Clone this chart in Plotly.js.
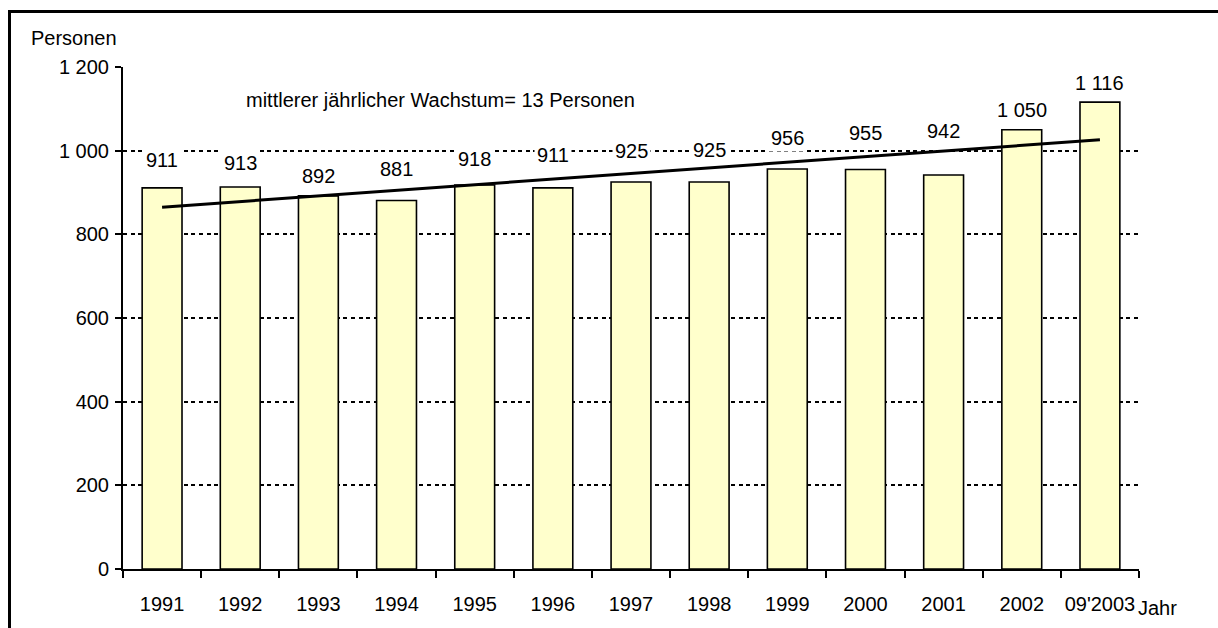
<!DOCTYPE html>
<html>
<head>
<meta charset="utf-8">
<script src="https://cdn.plot.ly/plotly-3.0.1.min.js"></script>
<style>
html,body{margin:0;padding:0;background:#fff;}
#wrap{position:relative;width:1218px;height:628px;overflow:hidden;}
#chart{position:absolute;left:0;top:0;width:1218px;height:628px;}
#frame{position:absolute;left:8px;top:10px;width:1300px;height:700px;border-top:3px solid #000;border-left:3px solid #000;pointer-events:none;}
</style>
</head>
<body>
<div id="wrap"><div id="chart"></div><div id="frame"></div></div>
<script>
const categories = ["1991","1992","1993","1994","1995","1996","1997","1998","1999","2000","2001","2002","09'2003"];
const persons = [911, 913, 892, 881, 918, 911, 925, 925, 956, 955, 942, 1050, 1116];
const valueLabels = ["911","913","892","881","918","911","925","925","956","955","942","1 050","1 116"];
const trendX = ["1991", "09'2003"];
const trendY = [865, 1026];
const yTickVals = [0, 200, 400, 600, 800, 1000, 1200];
const yTickText = ["0", "200", "400", "600", "800", "1 000", "1 200"];
const noteText = "mittlerer jährlicher Wachstum= 13 Personen";
// vertical offsets (px) of the value labels above the bar tops
const labelLift = [28, 24, 20, 31, 26, 33, 31, 32, 31, 36, 44, 20, 19];

const FONT = "Liberation Sans, Arial, sans-serif";
const FS = 20;

const bars = {
  type: "bar", x: categories, y: persons,
  marker: {color: "#FFFFCC", line: {color: "#000", width: 1.6}},
  hoverinfo: "x+y"
};
const trend = {
  type: "scatter", mode: "lines", x: trendX, y: trendY,
  line: {color: "#000", width: 3}, hoverinfo: "skip"
};

// category axis: annotations are placed by category index
const annotations = categories.map((c, i) => ({
  x: i, y: persons[i], xref: "x", yref: "y",
  text: valueLabels[i], showarrow: false,
  yanchor: "middle", yshift: labelLift[i],
  bgcolor: "#fff", borderpad: 2,
  font: {family: FONT, size: FS, color: "#000"}
}));
annotations.push({
  xref: "paper", yref: "paper", x: (244 - 123) / 1016, y: (569 - 100) / 502.5,
  xanchor: "left", yanchor: "middle", showarrow: false, text: noteText,
  font: {family: FONT, size: FS, color: "#000"}
});
annotations.push({
  xref: "paper", yref: "paper", x: (29 - 123) / 1016, y: (569 - 37) / 502.5,
  xanchor: "left", yanchor: "middle", showarrow: false, text: "Personen",
  font: {family: FONT, size: FS, color: "#000"}
});
annotations.push({
  xref: "paper", yref: "paper", x: (1136 - 123) / 1016, y: (569 - 608) / 502.5,
  xanchor: "left", yanchor: "middle", showarrow: false, text: "Jahr",
  font: {family: FONT, size: FS, color: "#000"}
});

const layout = {
  width: 1218, height: 628,
  margin: {l: 123, r: 79, t: 66.5, b: 59, pad: 0},
  paper_bgcolor: "#fff", plot_bgcolor: "#fff",
  showlegend: false, bargap: 0.49,
  font: {family: FONT, size: FS, color: "#000"},
  xaxis: {
    type: "category", categoryorder: "array", categoryarray: categories,
    range: [-0.5, categories.length - 0.5],
    showline: true, linecolor: "#000", linewidth: 2,
    ticks: "outside", ticklen: 7, tickwidth: 2, tickcolor: "#000",
    tickson: "boundaries", showgrid: false, zeroline: false,
    tickangle: 0, ticklabelstandoff: 16,
    tickfont: {family: FONT, size: FS, color: "#000"}
  },
  yaxis: {
    range: [0, 1200], showline: true, linecolor: "#000", linewidth: 2,
    ticks: "outside", ticklen: 6, tickwidth: 2, tickcolor: "#000",
    tickvals: yTickVals, ticktext: yTickText,
    showgrid: true, gridcolor: "#000", gridwidth: 2, griddash: "4px,3.6px",
    zeroline: false, ticklabelstandoff: 2,
    tickfont: {family: FONT, size: FS, color: "#000"}
  },
  annotations: annotations
};

Plotly.newPlot("chart", [bars, trend], layout, {displayModeBar: false, staticPlot: true});
</script>
</body>
</html>
